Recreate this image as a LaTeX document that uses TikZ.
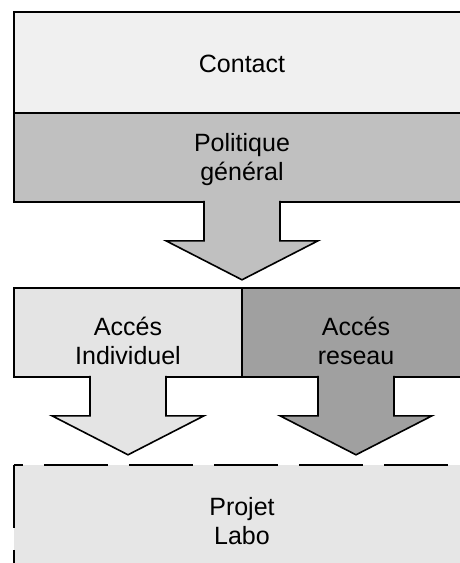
\documentclass[tikz,border=0pt]{standalone}
\usepackage{fontspec}
\setmainfont{Liberation Sans}

\definecolor{contactgray}{HTML}{F0F0F0}
\definecolor{politgray}{HTML}{C0C0C0}
\definecolor{indivgray}{HTML}{E4E4E4}
\definecolor{reseaugray}{HTML}{A0A0A0}
\definecolor{projetgray}{HTML}{E6E6E6}

\tikzset{
	box/.style={draw, line width=1.6pt, inner sep=0pt},
	lbl/.style={align=center, font=\fontsize{25}{29}\selectfont},
	outline/.style={line width=1.6pt, line join=miter},
	cutline/.style={line width=1.6pt, dash pattern=on 64pt off 21pt},
}

% block arrow hanging under a box: #1 fill, #2 top centre
\newcommand{\blockarrow}[2]{%
	\fill[#1] (#2) ++(-38,-2) -- ++(0,40) -- ++(-38,0) -- ++(76,39) -- ++(76,-39) -- ++(-38,0) -- ++(0,-40) -- cycle;
	\draw[outline] (#2) ++(-38,-2) -- ++(0,40) -- ++(-38,0) -- ++(76,39) -- ++(76,-39) -- ++(-38,0) -- ++(0,-40);
}

\begin{document}
\begin{tikzpicture}[x=1pt, y=-1pt]
	\useasboundingbox (0,0) rectangle (459,563);

	% top boxes
	\node[box, fill=contactgray, minimum width=456pt, minimum height=101pt] (contact) at (242,62.5) {};
	\node[box, fill=politgray, minimum width=456pt, minimum height=89pt] (politique) at (242,157.5) {};
	% middle row
	\node[box, fill=indivgray, minimum width=228pt, minimum height=89pt] (indiv) at (128,332.5) {};
	\node[box, fill=reseaugray, minimum width=228pt, minimum height=89pt] (reseau) at (356,332.5) {};
	% bottom box
	\node[fill=projetgray, inner sep=0pt, minimum width=456pt, minimum height=110pt] (projet) at (242,520) {};
	\draw[cutline, dash phase=55pt] (projet.north west) -- (projet.north east);
	\draw[cutline, dash pattern=on 63pt off 22pt] (projet.north west) -- (projet.south west);

	% arrows
	\blockarrow{politgray}{politique.south}
	\blockarrow{indivgray}{indiv.south}
	\blockarrow{reseaugray}{reseau.south}

	% label
	\node[lbl] (contacttxt) at ([yshift=-1pt]contact.center) {Contact};
	\node[lbl] (politxt) at ([yshift=-2.5pt]politique.center) {Politique\\général};
	\node[lbl] (indivtxt) at ([yshift=-8pt]indiv.center) {Accés\\Individuel};
	\node[lbl] (reseautxt) at ([yshift=-8pt]reseau.center) {Accés\\reseau};
	\node[lbl] (projettxt) at (242,521) {Projet\\Labo};
\end{tikzpicture}
\end{document}
